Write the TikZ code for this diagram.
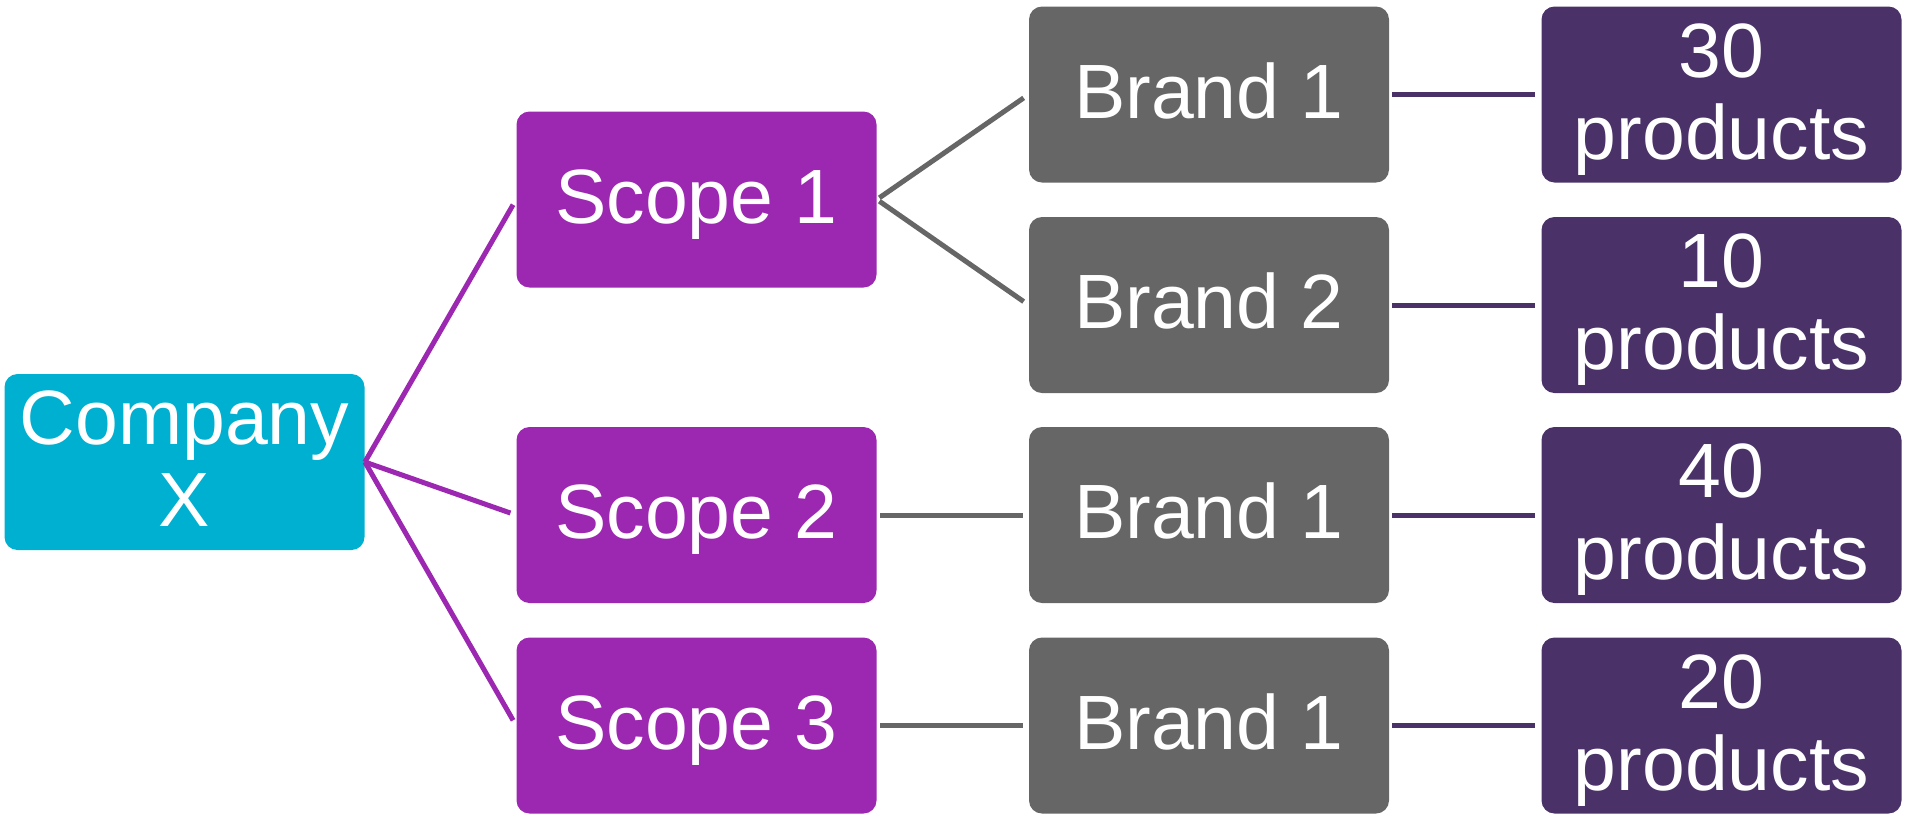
\documentclass[tikz,border=0pt]{standalone}
\usepackage{fontspec}
\setmainfont{Liberation Sans}
\definecolor{cocyan}{RGB}{0,176,208}
\definecolor{scpurple}{RGB}{156,39,176}
\definecolor{brgrey}{RGB}{102,102,102}
\definecolor{prplum}{RGB}{74,49,104}
% fixed line box so every label sits at the same height in its box
\newcommand{\lbl}[1]{\rule{0pt}{33pt}#1\rule[-9.5pt]{0pt}{9.5pt}}
\begin{document}
\begin{tikzpicture}[x=0.5pt,y=-0.5pt,
  box/.style={rounded corners=6.5pt, inner sep=0pt, align=center, text=white,
    minimum width=180pt, minimum height=88pt,
    font=\fontsize{38.5}{41}\selectfont},
  companybox/.style={box, fill=cocyan},
  scopebox/.style={box, fill=scpurple},
  brandbox/.style={box, fill=brgrey},
  prodbox/.style={box, fill=prplum},
  link/.style={line width=2.5pt, shorten >=3pt, shorten <=1.5pt}]
\useasboundingbox (0,0) rectangle (1905,816);

% root
\node[companybox] (co) at (184.5,462) {\lbl{Company\\X}};

% scopes
\node[scopebox] (s1) at (696.5,199.5) {\lbl{Scope 1}};
\node[scopebox] (s2) at (696.5,515) {\lbl{Scope 2}};
\node[scopebox] (s3) at (696.5,725.5) {\lbl{Scope 3}};

% brands
\node[brandbox] (b1) at (1209,94.5) {\lbl{Brand 1}};
\node[brandbox] (b2) at (1209,305) {\lbl{Brand 2}};
\node[brandbox] (b3) at (1209,515) {\lbl{Brand 1}};
\node[brandbox] (b4) at (1209,725.5) {\lbl{Brand 1}};

% product counts
\node[prodbox] (p1) at (1721.5,94.5) {\lbl{30\\products}};
\node[prodbox] (p2) at (1721.5,305) {\lbl{10\\products}};
\node[prodbox] (p3) at (1721.5,515) {\lbl{40\\products}};
\node[prodbox] (p4) at (1721.5,725.5) {\lbl{20\\products}};

% connectors
\foreach \s in {s1,s2,s3}
  \draw[link, scpurple, shorten <=0pt] (co.east) -- (\s.west);
\draw[link, brgrey] (s1.east) -- (b1.west);
\draw[link, brgrey] (s1.east) -- (b2.west);
\draw[link, brgrey] (s2.east) -- (b3.west);
\draw[link, brgrey] (s3.east) -- (b4.west);
\foreach \i in {1,2,3,4}
  \draw[link, prplum] (b\i.east) -- (p\i.west);
\end{tikzpicture}
\end{document}
